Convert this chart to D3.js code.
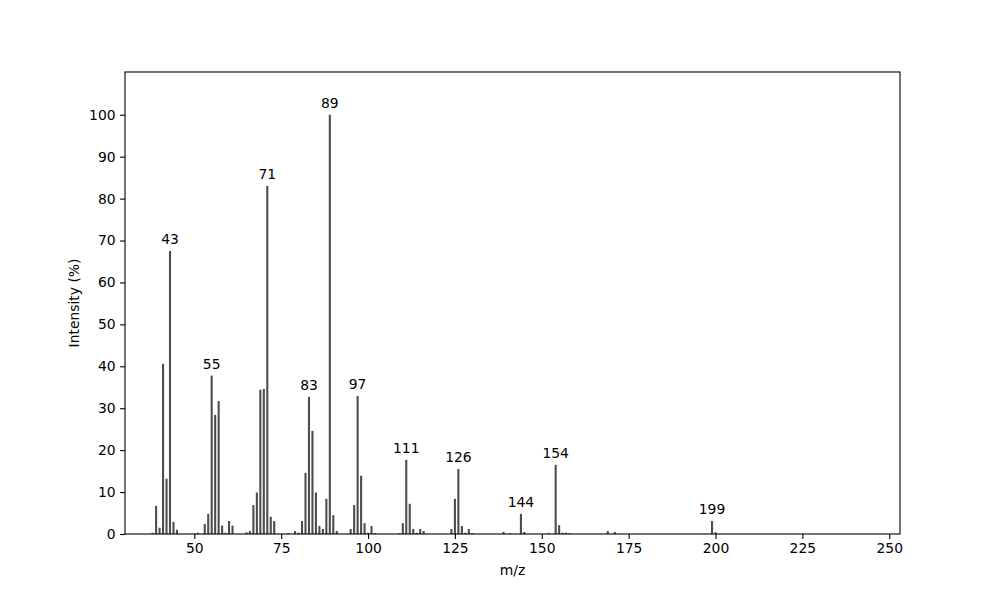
<!DOCTYPE html>
<html>
<head>
<meta charset="utf-8">
<script src="https://cdn.jsdelivr.net/npm/d3@7"></script>
<style>
  html, body { margin: 0; padding: 0; background: #fff; }
  svg { display: block; font-family: "DejaVu Sans", sans-serif; }
</style>
</head>
<body>
<svg id="chart" width="1000" height="600"></svg>
<script>
// m/z values and relative intensities (%)
const mz = [38, 39, 40, 41, 42, 43, 44, 45,
  51, 53, 54, 55, 56, 57, 58, 59, 60, 61,
  65, 66, 67, 68, 69, 70, 71, 72, 73,
  77, 79, 80, 81, 82, 83, 84, 85, 86, 87, 88, 89, 90, 91,
  95, 96, 97, 98, 99, 100, 101, 102,
  109, 110, 111, 112, 113, 114, 115, 116,
  124, 125, 126, 127, 128, 129, 130,
  139, 141, 144, 145,
  152, 154, 155, 156, 157, 158,
  169, 171,
  199, 200];
const intensity = [0.3, 6.7, 1.5, 40.6, 13.2, 67.5, 2.9, 1.0,
  0.3, 2.4, 4.8, 37.8, 28.4, 31.7, 2.0, 0.3, 3.1, 2.0,
  0.4, 0.7, 6.9, 9.9, 34.4, 34.6, 83.0, 4.1, 3.1,
  0.2, 0.7, 0.3, 3.1, 14.6, 32.7, 24.6, 9.9, 1.9, 1.2, 8.4, 100, 4.5, 0.7,
  1.2, 6.9, 32.9, 13.9, 2.6, 0.3, 1.9, 0.2,
  0.2, 2.6, 17.7, 7.2, 1.2, 0.3, 1.2, 0.7,
  1.2, 8.4, 15.5, 1.9, 0.3, 1.2, 0.2,
  0.5, 0.2, 4.8, 0.5,
  0.2, 16.5, 2.1, 0.3, 0.3, 0.2,
  0.7, 0.5,
  3.1, 0.4];
// annotated peaks
const labelled = [43, 55, 71, 83, 89, 97, 111, 126, 144, 154, 199];
const xTicks = [50, 75, 100, 125, 150, 175, 200, 225, 250];
const yTicks = [0, 10, 20, 30, 40, 50, 60, 70, 80, 90, 100];
const xLabel = "m/z";
const yLabel = "Intensity (%)";

const data = mz.map((m, i) => ({ mz: m, v: intensity[i] }));

const svg = d3.select("#chart");
const L = 125, R = 900, T = 72, B = 534;
const x = d3.scaleLinear().domain([30.05, 253.1]).range([L, R]);
const y = d3.scaleLinear().domain([0, 110.2]).range([B, T]);
const barW = 0.6;
const fontSize = 13.9;

const g = svg.append("g");

g.selectAll("rect.bar").data(data).enter().append("rect")
  .attr("class", "bar")
  .attr("x", d => x(d.mz - barW / 2))
  .attr("width", x(barW) - x(0))
  .attr("y", d => y(d.v))
  .attr("height", d => y(0) - y(d.v))
  .attr("fill", "#4d4d4d");

g.selectAll("text.peak").data(data.filter(d => labelled.includes(d.mz))).enter().append("text")
  .attr("class", "peak")
  .attr("x", d => x(d.mz))
  .attr("y", d => y(d.v) - 7)
  .attr("text-anchor", "middle")
  .attr("font-size", fontSize)
  .attr("fill", "#000")
  .text(d => d.mz);

// axes
const xAxis = d3.axisBottom(x).tickValues(xTicks).tickSize(4.9).tickPadding(4.5).tickFormat(d3.format("d"));
const yAxis = d3.axisLeft(y).tickValues(yTicks).tickSize(4.9).tickPadding(4.5).tickFormat(d3.format("d"));

const gx = svg.append("g").attr("transform", `translate(0,${B})`).call(xAxis);
const gy = svg.append("g").attr("transform", `translate(${L},0)`).call(yAxis);
[gx, gy].forEach(a => {
  a.select(".domain").remove();
  a.selectAll("line").attr("stroke", "#000").attr("stroke-width", 1.1);
  a.selectAll("text").attr("font-size", fontSize).attr("fill", "#000")
    .attr("font-family", "DejaVu Sans, sans-serif");
});

// frame
svg.append("rect").attr("x", L).attr("y", T).attr("width", R - L).attr("height", B - T)
  .attr("fill", "none").attr("stroke", "#000").attr("stroke-width", 1.1);

svg.append("text").attr("x", (L + R) / 2).attr("y", 575)
  .attr("text-anchor", "middle").attr("font-size", fontSize).text(xLabel);
svg.append("text").attr("transform", `translate(79,${(T + B) / 2}) rotate(-90)`)
  .attr("text-anchor", "middle").attr("font-size", fontSize).text(yLabel);
</script>
</body>
</html>
